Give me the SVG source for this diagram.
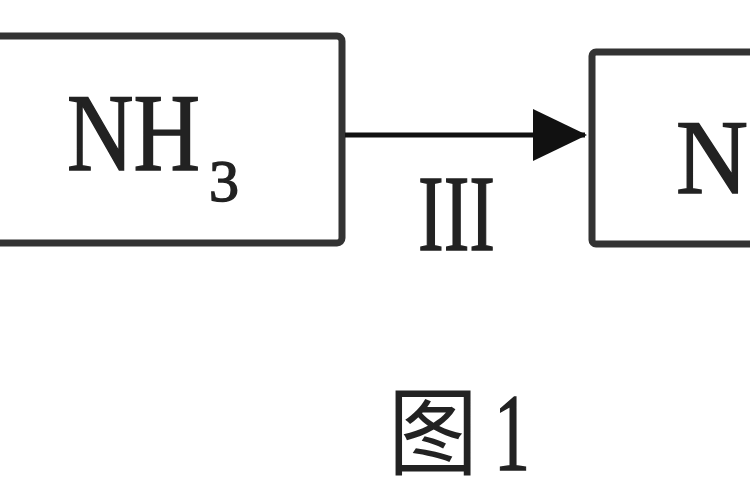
<svg xmlns="http://www.w3.org/2000/svg" width="750" height="500" viewBox="0 0 750 500">
<style>
.box{fill:#fff;stroke:#333;stroke-width:7}
.t{font-family:"Liberation Serif","Times New Roman",serif;fill:#222;stroke:#222;stroke-width:1.5}
.c{font-family:"Noto Sans CJK SC",sans-serif;fill:#222}
.edge{stroke:#111;stroke-width:5;fill:none}
</style>
<defs>
<marker id="ah" markerUnits="userSpaceOnUse" markerWidth="54" markerHeight="52" refX="52" refY="26" orient="auto">
<path d="M0,0 L54,26 L0,52 Z" fill="#111"/>
</marker>
</defs>
<rect width="750" height="500" fill="#fff"/>
<g id="node-nh3">
<rect class="box" x="-10" y="36" width="352" height="207" rx="5"/>
<text class="t" x="67" y="170" font-size="110" textLength="133" lengthAdjust="spacingAndGlyphs">NH</text>
<text class="t" x="209" y="201" font-size="60" textLength="30" lengthAdjust="spacingAndGlyphs">3</text>
</g>
<g id="node-n">
<rect class="box" x="592" y="52" width="180" height="192" rx="4"/>
<text class="t" x="676" y="193" font-size="106" textLength="72" lengthAdjust="spacingAndGlyphs">N</text>
</g>
<g id="connectors">
<line class="edge" x1="345" y1="135" x2="585" y2="135" marker-end="url(#ah)"/>
<text class="t" x="418" y="250" font-size="108" textLength="77" lengthAdjust="spacingAndGlyphs">III</text>
</g>
<g id="caption">
<text class="c" x="388" y="467" font-size="96" textLength="90" lengthAdjust="spacingAndGlyphs">图</text>
<text class="t" x="494" y="470" font-size="110" textLength="36" lengthAdjust="spacingAndGlyphs">1</text>
</g>
</svg>
